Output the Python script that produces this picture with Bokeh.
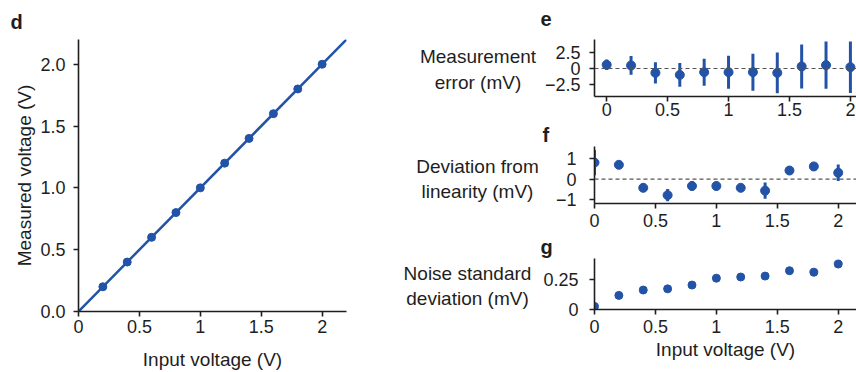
from bokeh.plotting import figure
from bokeh.layouts import row, column
from bokeh.models import Range1d, FixedTicker, Span
from bokeh.core.properties import value
from bokeh.embed import file_html
from bokeh.resources import INLINE

# ---------------- data ----------------
input_v = [0.0, 0.2, 0.4, 0.6, 0.8, 1.0, 1.2, 1.4, 1.6, 1.8, 2.0]
d_input = [0.2, 0.4, 0.6, 0.8, 1.0, 1.2, 1.4, 1.6, 1.8, 2.0]
d_measured = [0.2, 0.4, 0.6, 0.8, 1.0, 1.2, 1.4, 1.6, 1.8, 2.0]
fit_x = [0.0, 2.2]
fit_y = [0.0, 2.2]
err_mean = [0.56, 0.46, -0.66, -0.97, -0.56, -0.56, -0.56, -0.66, 0.31, 0.51, 0.20]
err_sd = [0.8, 1.42, 1.6, 1.8, 2.05, 2.5, 2.8, 3.1, 3.35, 3.57, 3.9]
dev_mean = [0.81, 0.70, -0.43, -0.79, -0.34, -0.34, -0.43, -0.57, 0.42, 0.62, 0.31]
dev_err = [0.62, 0.1, 0.1, 0.3, 0.25, 0.22, 0.12, 0.4, 0.15, 0.12, 0.4]
noise_sd = [0.026, 0.119, 0.164, 0.174, 0.206, 0.264, 0.274, 0.282, 0.327, 0.314, 0.383]

d_xticks = [0, 0.5, 1, 1.5, 2]
d_xtick_labels = ["0", "0.5", "1", "1.5", "2"]
d_yticks = [0, 0.5, 1, 1.5, 2]
d_ytick_labels = ["0.0", "0.5", "1.0", "1.5", "2.0"]
e_yticks = [-2.5, 0, 2.5]
e_ytick_labels = ["\u22122.5", "0", "2.5"]
f_yticks = [-1, 0, 1]
f_ytick_labels = ["\u22121", "0", "1"]
g_yticks = [0, 0.25]
g_ytick_labels = ["0", "0.25"]

panel_letters = ["d", "e", "f", "g"]
side_labels = ["Measurement\nerror (mV)", "Deviation from\nlinearity (mV)",
               "Noise standard\ndeviation (mV)"]

BLUE = "#2253a6"
INK = "#1e1e1e"
FONT = "Liberation Sans"


def style(p, xt, xl, yt, yl, ystand):
    p.outline_line_color = None
    p.grid.visible = False
    p.background_fill_color = "white"
    p.border_fill_color = "white"
    for ax in p.axis:
        ax.axis_line_color = INK
        ax.axis_line_width = 1.6
        ax.major_tick_line_color = INK
        ax.major_tick_line_width = 1.6
        ax.major_tick_out = 5
        ax.major_tick_in = 0
        ax.minor_tick_line_color = None
        ax.major_label_text_font = FONT
        ax.major_label_text_font_size = "18px"
        ax.major_label_text_color = INK
        ax.axis_label_text_font = FONT
        ax.axis_label_text_font_size = "19px"
        ax.axis_label_text_font_style = "normal"
        ax.axis_label_text_color = INK
    p.xaxis.ticker = FixedTicker(ticks=xt)
    p.xaxis.major_label_overrides = {float(k): v for k, v in zip(xt, xl)}
    p.yaxis.ticker = FixedTicker(ticks=yt)
    p.yaxis.major_label_overrides = {float(k): v for k, v in zip(yt, yl)}
    p.xaxis.major_label_standoff = 5
    p.yaxis.major_label_standoff = ystand


def text_strip(w, h):
    """A blank figure whose data space equals its pixel space (y downwards)."""
    s = figure(width=w, height=h, x_range=Range1d(0, w), y_range=Range1d(h, 0),
               output_backend="svg", toolbar_location=None,
               x_axis_location=None, y_axis_location=None,
               min_border_left=0, min_border_right=0, min_border_top=0, min_border_bottom=0)
    s.outline_line_color = None
    s.grid.visible = False
    s.background_fill_color = "white"
    s.border_fill_color = "white"
    return s


def put_letter(s, txt, x, y):
    s.text(x=[x], y=[y], text=[txt], text_font=value(FONT), text_font_size=value("20px"),
           text_font_style="bold", text_color=INK, text_align="left",
           text_baseline="middle")


# ---------------- panel d ----------------
strip_d = text_strip(390, 36)
put_letter(strip_d, panel_letters[0], 10, 21)

pd_ = figure(width=390, height=336, x_range=Range1d(0, 2.2), y_range=Range1d(0, 2.2),
             output_backend="svg", toolbar_location=None,
             min_border_left=78, min_border_right=44, min_border_top=3, min_border_bottom=60)
style(pd_, d_xticks, d_xtick_labels, d_yticks, d_ytick_labels, 8)
pd_.xaxis.major_label_standoff = 3
pd_.xaxis.axis_label = "Input voltage (V)"
pd_.yaxis.axis_label = "Measured voltage (V)"
pd_.xaxis.axis_label_standoff = 13
pd_.yaxis.axis_label_standoff = 2
pd_.line(fit_x, fit_y, line_color=BLUE, line_width=2.5)
pd_.scatter(d_input, d_measured, size=8, fill_color=BLUE, line_color=BLUE)

# ---------------- side labels of e, f, g ----------------
lab = text_strip(150, 372)
lab.text(x=[87.5, 87, 77], y=[69, 178.5, 285.5], text=side_labels,
         text_font=value(FONT), text_font_size=value("19px"), text_color=INK,
         text_align="center", text_baseline="middle", text_line_height=1.2)

# ---------------- panel e ----------------
W_R = 316
strip_e = text_strip(W_R, 37)
put_letter(strip_e, panel_letters[1], 0, 18)

pe = figure(width=W_R, height=86, x_range=Range1d(-0.1, 2.05), y_range=Range1d(-4.25, 4.4),
            output_backend="svg", toolbar_location=None,
            min_border_left=54, min_border_right=0, min_border_top=2, min_border_bottom=27)
style(pe, d_xticks, d_xtick_labels, e_yticks, e_ytick_labels, 9)
pe.xaxis.major_label_standoff = 1
pe.add_layout(Span(location=0, dimension="width", line_color="#555555",
                   line_width=1.2, line_dash="4 3"))
pe.segment(input_v, [m - s for m, s in zip(err_mean, err_sd)],
           input_v, [m + s for m, s in zip(err_mean, err_sd)],
           line_color=BLUE, line_width=3)
pe.scatter(input_v, err_mean, size=9, fill_color=BLUE, line_color=BLUE)

# ---------------- panel f ----------------
strip_f = text_strip(W_R, 23)
put_letter(strip_f, panel_letters[2], 2, 11.5)

pf = figure(width=W_R, height=89, x_range=Range1d(0, 2.15), y_range=Range1d(-1.2, 1.6),
            output_backend="svg", toolbar_location=None,
            min_border_left=54, min_border_right=0, min_border_top=0, min_border_bottom=32)
style(pf, d_xticks, d_xtick_labels, f_yticks, f_ytick_labels, 13)
pf.add_layout(Span(location=0, dimension="width", line_color="#555555",
                   line_width=1.2, line_dash="4 3"))
pf.segment(input_v, [m - s for m, s in zip(dev_mean, dev_err)],
           input_v, [m + s for m, s in zip(dev_mean, dev_err)],
           line_color=BLUE, line_width=3)
pf.scatter(input_v, dev_mean, size=9, fill_color=BLUE, line_color=BLUE)

# ---------------- panel g ----------------
strip_g = text_strip(W_R, 23)
put_letter(strip_g, panel_letters[3], 0, 11.4)

pg = figure(width=W_R, height=114, x_range=Range1d(0, 2.15), y_range=Range1d(0, 0.43),
            output_backend="svg", toolbar_location=None,
            min_border_left=54, min_border_right=0, min_border_top=0, min_border_bottom=63)
style(pg, d_xticks, d_xtick_labels, g_yticks, g_ytick_labels, 11)
pg.xaxis.axis_label = "Input voltage (V)"
pg.xaxis.axis_label_standoff = 3
pg.scatter(input_v, noise_sd, size=8, fill_color=BLUE, line_color=BLUE)

layout = row(column(row(strip_d), row(pd_)), lab,
             column(row(strip_e), row(pe), row(strip_f), row(pf), row(strip_g), row(pg)))
open("out.html", "w").write(file_html(layout, INLINE))
